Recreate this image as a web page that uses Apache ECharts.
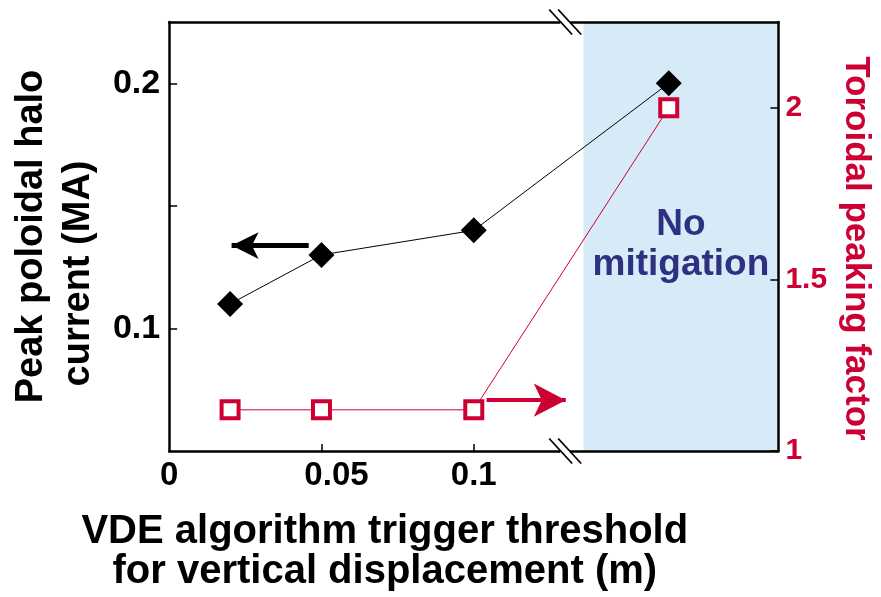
<!DOCTYPE html>
<html><head><meta charset="utf-8">
<script src="https://cdn.jsdelivr.net/npm/echarts@6/dist/echarts.min.js"></script>
<style>html,body{margin:0;padding:0;background:#fff}#c{width:881px;height:597px}</style>
</head><body><div id="c"></div>
<script>
// ---- data ----
const thresholds = [0.02, 0.05, 0.1, 0.164];      // VDE trigger threshold (m); last point = no mitigation
const haloCurrent = [0.11, 0.13, 0.14, 0.2];      // peak poloidal halo current (MA)
const peakingFactor = [1.12, 1.12, 1.12, 2.0];    // toroidal peaking factor
const xTickValues = [0.05, 0.1];
const xLabelValues = [0, 0.05, 0.1];
const leftTickValues = [0.1, 0.15, 0.2];
const leftLabelValues = [0.1, 0.2];
const rightTickValues = [1, 1.5, 2];
const rightLabelValues = [1, 1.5, 2];
const noMitigationRange = [0.136, 0.2];
const axisBreakAt = 0.13;

const FONT = "'Liberation Sans', Arial, Helvetica, sans-serif";
const RED = '#cc0033';
const NAVY = '#2e3182';

const chart = echarts.init(document.getElementById('c'), null, {renderer: 'canvas'});
const xLabelStyle = {fontSize: 33, fontWeight: 'bold', color: '#000', fontFamily: FONT};
const option = {
  animation: false,
  backgroundColor: '#fff',
  grid: {left: 167, right: 98, top: 22, bottom: 145, containLabel: false},
  xAxis: [{
    type: 'value', min: 0, max: 0.2, position: 'bottom', z: 5,
    axisLine: {show: true, onZero: false, lineStyle: {color: '#000', width: 2.5}},
    axisTick: {show: true, inside: true, length: 7, customValues: xTickValues, lineStyle: {color: '#000', width: 1.5}},
    axisLabel: Object.assign({customValues: xLabelValues, margin: 8,
      formatter: function (v) { return v === 0.05 ? '{s|' + v + '}' : String(v); },
      rich: {s: Object.assign({padding: [0, 0, 0, 30]}, xLabelStyle)}}, xLabelStyle),
    splitLine: {show: false},
    name: 'VDE algorithm trigger threshold\nfor vertical displacement (m)',
    nameLocation: 'middle', nameGap: 61,
    nameTextStyle: {fontSize: 40, fontWeight: 'bold', color: '#000', fontFamily: FONT, lineHeight: 40, padding: [0, 178, 0, 0]}
  }, {
    type: 'value', min: 0, max: 0.2, position: 'top', z: 5,
    axisLine: {show: true, onZero: false, lineStyle: {color: '#000', width: 2.5}},
    axisTick: {show: false}, axisLabel: {show: false}, splitLine: {show: false}
  }],
  yAxis: [{
    type: 'value', min: 0.05, max: 0.225, position: 'left', z: 5,
    axisLine: {show: true, onZero: false, lineStyle: {color: '#000', width: 2.5}},
    axisTick: {show: true, inside: true, length: 8, customValues: leftTickValues, lineStyle: {color: '#000', width: 1.5}},
    axisLabel: {customValues: leftLabelValues, fontSize: 34, fontWeight: 'bold', color: '#000', margin: 9, fontFamily: FONT},
    splitLine: {show: false},
    name: 'Peak poloidal halo\ncurrent (MA)       ', nameLocation: 'middle', nameGap: 57,
    nameTextStyle: {fontSize: 38, fontWeight: 'bold', color: '#000', fontFamily: FONT, lineHeight: 47}
  }, {
    type: 'value', min: 1, max: 2.25, position: 'right', z: 5,
    axisLine: {show: true, onZero: false, lineStyle: {color: '#000', width: 2.5}},
    axisTick: {show: true, inside: true, length: 8, customValues: rightTickValues, lineStyle: {color: '#000', width: 1.5}},
    axisLabel: {customValues: rightLabelValues, fontSize: 30, fontWeight: 'bold', color: RED, margin: 7, fontFamily: FONT},
    splitLine: {show: false},
    name: 'Toroidal peaking factor', nameLocation: 'middle', nameGap: 51, nameRotate: -90,
    nameTextStyle: {fontSize: 35, fontWeight: 'bold', color: RED, fontFamily: FONT, padding: [0, 0, 0, 24]}
  }],
  series: [{
    name: 'region', type: 'line', data: [], z: 1, xAxisIndex: 0, yAxisIndex: 0,
    markArea: {
      silent: true,
      itemStyle: {color: '#d6eaf8'},
      label: {show: true, position: 'inside', formatter: 'No\nmitigation', color: NAVY, fontSize: 37,
              fontWeight: 'bold', fontFamily: FONT, lineHeight: 40, offset: [0, 8]},
      data: [[{xAxis: noMitigationRange[0]}, {xAxis: noMitigationRange[1]}]]
    }
  }, {
    name: 'Peak poloidal halo current', type: 'line', z: 3, xAxisIndex: 0, yAxisIndex: 0,
    data: thresholds.map((x, i) => [x, haloCurrent[i]]),
    symbol: 'diamond', symbolSize: 26,
    itemStyle: {color: '#000'}, lineStyle: {color: '#000', width: 1},
    markLine: {
      silent: true, symbol: ['none', 'arrow'], symbolSize: [20, 27],
      lineStyle: {color: '#000', width: 5, type: 'solid'}, label: {show: false},
      data: [[{coord: [0.0458, 0.1338]}, {coord: [0.0205, 0.1338]}]]
    }
  }, {
    name: 'Toroidal peaking factor', type: 'line', z: 3, xAxisIndex: 0, yAxisIndex: 1,
    data: thresholds.map((x, i) => [x, peakingFactor[i]]),
    symbol: 'rect', symbolSize: 17,
    itemStyle: {color: '#fff', borderColor: RED, borderWidth: 4}, lineStyle: {color: RED, width: 1},
    markLine: {
      silent: true, symbol: ['none', 'arrow'], symbolSize: [25, 32],
      lineStyle: {color: RED, width: 4, type: 'solid'}, label: {show: false},
      data: [[{coord: [0.1042, 1.148]}, {coord: [0.1302, 1.148]}]]
    }
  }]
};
chart.setOption(option);

// axis-break marks on the top and bottom frame lines
const bx = chart.convertToPixel({xAxisIndex: 0}, axisBreakAt);
const yTop = chart.convertToPixel({yAxisIndex: 0}, 0.225);
const yBot = chart.convertToPixel({yAxisIndex: 0}, 0.05);
const g = [];
[yTop, yBot].forEach(function (y0) {
  g.push({type: 'rect', z: 10, shape: {x: bx - 5, y: y0 - 3, width: 10, height: 6}, style: {fill: '#fff'}});
  [-4.5, 4.5].forEach(function (d) {
    g.push({type: 'line', z: 11, shape: {x1: bx + d - 11.5, y1: y0 - 12.5, x2: bx + d + 11.5, y2: y0 + 12.5},
            style: {stroke: '#000', lineWidth: 1.8}});
  });
});
chart.setOption({graphic: g});
</script>
</body></html>
